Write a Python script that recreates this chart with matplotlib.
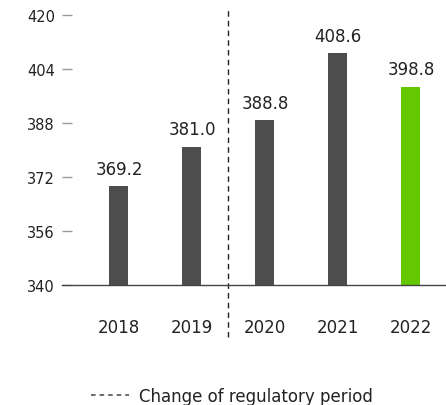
import matplotlib
matplotlib.use("Agg")
import matplotlib.pyplot as plt
from matplotlib.lines import Line2D

years = ["2018", "2019", "2020", "2021", "2022"]
values = [369.2, 381.0, 388.8, 408.6, 398.8]
colors = ["#4d4d4d", "#4d4d4d", "#4d4d4d", "#4d4d4d", "#64c800"]
yticks = [340, 356, 372, 388, 404, 420]
legend_label = "Change of regulatory period"

fig = plt.figure(figsize=(4.46, 4.06), dpi=100)
ax = fig.add_axes([62/446, 1-286/406, 1-62/446, 270/406])

x = list(range(len(years)))
bars = ax.bar(x, [v - 340 for v in values], bottom=340, width=0.26, color=colors)
for xi, v in zip(x, values):
    ax.annotate(f"{v:.1f}", (xi, v), xytext=(0, 6), textcoords="offset points",
                ha="center", va="bottom", fontsize=12, color="#222222")

ax.set_xlim(-0.78, 4.48)
ax.set_ylim(340, 420)
ax.set_yticks(yticks)
ax.set_yticklabels([str(t) for t in yticks], fontsize=10.5, color="#222222")
ax.set_xticks(x)
ax.set_xticklabels(years, fontsize=12, color="#222222")
ax.tick_params(axis="x", length=0, pad=24)
ax.tick_params(axis="y", direction="in", length=7.5, width=1, color="#999999", pad=5)
for s in ["top", "right", "left"]:
    ax.spines[s].set_visible(False)
ax.spines["bottom"].set_color("#444444")
ax.spines["bottom"].set_linewidth(1)

# regulatory period change line between 2019 and 2020
ax.plot([1.5, 1.5], [-0.193, 1.022], transform=ax.get_xaxis_transform(),
        color="#222222", linestyle=(0, (4, 3)), linewidth=1, clip_on=False)

handle = Line2D([], [], color="#444444", linestyle=(0, (3, 2.6)), linewidth=1.1)
fig.legend([handle], [legend_label], loc="center", bbox_to_anchor=(0.52, 1-397/406),
           frameon=False, fontsize=12, handlelength=2.3, handletextpad=0.6,
           labelcolor="#222222")

fig.savefig("out.png", dpi=100)
